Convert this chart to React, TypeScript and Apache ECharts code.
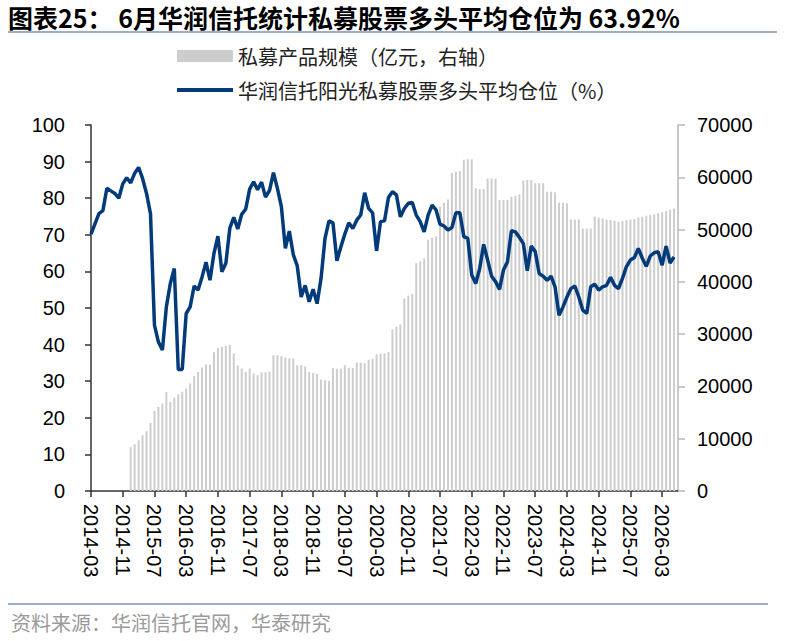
import React, { useEffect, useRef } from "react";
import * as echarts from "echarts";

// Monthly categories 2014-03 .. 2026-07
const categories: string[] = [];
for (let k = 0; k < 149; k++) {
  const m = 2 + k; // zero-based month offset from Jan 2014
  const y = 2014 + Math.floor(m / 12);
  const mm = (m % 12) + 1;
  categories.push(`${y}-${mm < 10 ? "0" + mm : mm}`);
}

// 私募产品规模（亿元，右轴）
const scaleValues: (number | null)[] = [
  null, null, null, null, null, null, null, null, null, null,
  8420, 8940, 9700, 10660, 11430, 13020, 15310, 16080, 16720, 18950,
  17040, 17870, 18510, 19000, 19600, 20560, 22010, 22780, 23620, 24190,
  24190, 26550, 27370, 27560, 27750, 27940, 26300, 24000, 23430, 22780,
  23430, 22470, 22150, 22700, 22700, 22850, 25970, 25970, 25800, 25550,
  25340, 25340, 24060, 24060, 23800, 22780, 22590, 22400, 21320, 21190,
  21050, 23480, 23380, 23400, 24060, 23540, 23540, 24580, 24540, 24450,
  25100, 25280, 26140, 26250, 26300, 26610, 30900, 31390, 31870, 36820,
  37360, 37700, 43580, 43900, 44480, 48050, 48460, 48700, 54360, 55150,
  55730, 60800, 61060, 61220, 63350, 63430, 63430, 57880, 57750, 57750,
  59790, 59790, 59700, 55640, 55640, 55640, 56270, 56460, 56730, 59330,
  59470, 59470, 58880, 58880, 58880, 57230, 57230, 57150, 55150, 55150,
  55050, 51940, 51940, 51940, 50220, 50220, 50220, 52500, 52310, 52120,
  51940, 51810, 51680, 51490, 51620, 51810, 51940, 52000, 52300, 52450,
  52650, 52800, 52950, 53100, 53300, 53550, 53800, 54050,
];

// 华润信托阳光私募股票多头平均仓位（%）
const positionValues: (number | null)[] = [
  70.2, 73.0, 75.8, 76.6, 82.7, 82.0, 81.3, 80.0, 83.9, 85.6,
  84.2, 86.8, 88.4, 85.4, 81.3, 75.8, 45.3, 40.7, 38.5, 50.3,
  56.7, 60.8, 33.2, 33.2, 48.5, 50.3, 56.0, 54.9, 58.5, 62.5,
  57.6, 64.9, 69.6, 59.9, 62.2, 71.8, 74.8, 71.6, 75.6, 77.0,
  82.5, 84.5, 82.3, 84.4, 80.3, 82.1, 87.0, 82.7, 77.7, 66.3,
  71.0, 64.6, 61.5, 53.0, 56.2, 51.7, 55.1, 51.2, 58.1, 69.0,
  73.8, 73.3, 62.9, 66.7, 70.2, 73.3, 71.7, 74.0, 75.4, 81.5,
  77.2, 76.0, 65.6, 73.6, 73.8, 80.2, 81.8, 80.9, 74.9, 77.2,
  78.6, 78.8, 75.4, 73.6, 70.8, 75.4, 78.1, 76.8, 72.9, 72.4,
  71.3, 72.0, 76.0, 76.0, 69.5, 69.0, 59.0, 56.7, 60.8, 67.4,
  63.1, 58.7, 57.2, 55.1, 60.4, 62.6, 71.1, 70.8, 69.3, 67.6,
  60.2, 66.9, 65.4, 59.4, 58.7, 57.6, 58.7, 55.8, 48.0, 50.3,
  53.0, 55.3, 56.0, 53.0, 49.4, 48.5, 55.8, 56.5, 54.9, 55.8,
  56.2, 58.4, 56.2, 55.3, 58.1, 61.3, 63.1, 63.8, 66.3, 63.6,
  61.4, 64.2, 65.1, 65.4, 61.7, 66.9, 62.3, 63.92, null,
];

const titleText = "图表25： 6月华润信托统计私募股票多头平均仓位为 63.92%";
const barName = "私募产品规模（亿元，右轴）";
const lineName = "华润信托阳光私募股票多头平均仓位（%）";
const sourceText = "资料来源：华润信托官网，华泰研究";

const CJK = '"Noto Sans CJK SC", "Noto Sans", sans-serif';
const NUM = '"Liberation Sans", Arial, sans-serif';

export default function App() {
  const ref = useRef<HTMLDivElement>(null);

  useEffect(() => {
    document.body.style.margin = "0";
    if (!ref.current) return;
    const chart = echarts.init(ref.current, null, { renderer: "svg" });
    chart.setOption({
      animation: false,
      backgroundColor: "#ffffff",
      grid: { left: 91, right: 109, top: 125, bottom: 150 },
      legend: [
        {
          data: [barName],
          left: 172,
          top: 41,
          icon: "rect",
          itemWidth: 56,
          itemHeight: 12,
          textStyle: { fontSize: 20, color: "#222", fontFamily: CJK },
        },
        {
          data: [lineName],
          left: 172,
          top: 75,
          icon: "rect",
          itemWidth: 56,
          itemHeight: 4,
          textStyle: { fontSize: 20, color: "#222", fontFamily: CJK },
        },
      ],
      xAxis: {
        type: "category",
        data: categories,
        boundaryGap: false,
        axisLine: { lineStyle: { color: "#333", width: 1.5 } },
        axisTick: { interval: 7, length: 6, lineStyle: { color: "#333", width: 1.5 } },
        axisLabel: {
          interval: 7,
          rotate: -90,
          margin: 13,
          fontSize: 20,
          color: "#000",
          fontFamily: NUM,
        },
        splitLine: { show: false },
      },
      yAxis: [
        {
          type: "value",
          min: 0,
          max: 100,
          interval: 10,
          position: "left",
          axisLine: { show: true, lineStyle: { color: "#333", width: 1.5 } },
          axisTick: { show: true, length: 6, lineStyle: { color: "#333", width: 1.5 } },
          axisLabel: { margin: 26, fontSize: 20, color: "#000", fontFamily: NUM },
          splitLine: { show: false },
        },
        {
          type: "value",
          min: 0,
          max: 70000,
          interval: 10000,
          position: "right",
          axisLine: { show: true, lineStyle: { color: "#b8b8b8", width: 1.5 } },
          axisTick: { show: true, length: 7, lineStyle: { color: "#b8b8b8", width: 1.5 } },
          axisLabel: {
            margin: 19,
            fontSize: 20,
            color: "#000",
            fontFamily: NUM,
            formatter: (v: number) => String(v),
          },
          splitLine: { show: false },
        },
      ],
      series: [
        {
          name: barName,
          type: "bar",
          yAxisIndex: 1,
          data: scaleValues,
          barWidth: 2,
          itemStyle: { color: "#cdcdcd" },
          z: 1,
        },
        {
          name: lineName,
          type: "line",
          yAxisIndex: 0,
          data: positionValues,
          symbol: "none",
          lineStyle: { color: "#023a7a", width: 3.5 },
          itemStyle: { color: "#023a7a" },
          z: 3,
        },
      ],
      graphic: [
        {
          type: "text",
          left: 8,
          top: 4,
          style: {
            text: titleText,
            fontSize: 25,
            fontWeight: "bold",
            fontFamily: CJK,
            fill: "#000",
          },
        },
        {
          type: "line",
          shape: { x1: 8, y1: 32, x2: 777, y2: 32 },
          style: { stroke: "#9aafc7", lineWidth: 2 },
        },
        {
          type: "line",
          shape: { x1: 8, y1: 604, x2: 768, y2: 604 },
          style: { stroke: "#9aafc7", lineWidth: 2 },
        },
        {
          type: "text",
          left: 11,
          top: 612,
          style: {
            text: sourceText,
            fontSize: 20,
            fontFamily: CJK,
            fill: "#9a9a9a",
          },
        },
      ],
    });
    return () => chart.dispose();
  }, []);

  return <div ref={ref} style={{ width: 787, height: 641 }} />;
}
